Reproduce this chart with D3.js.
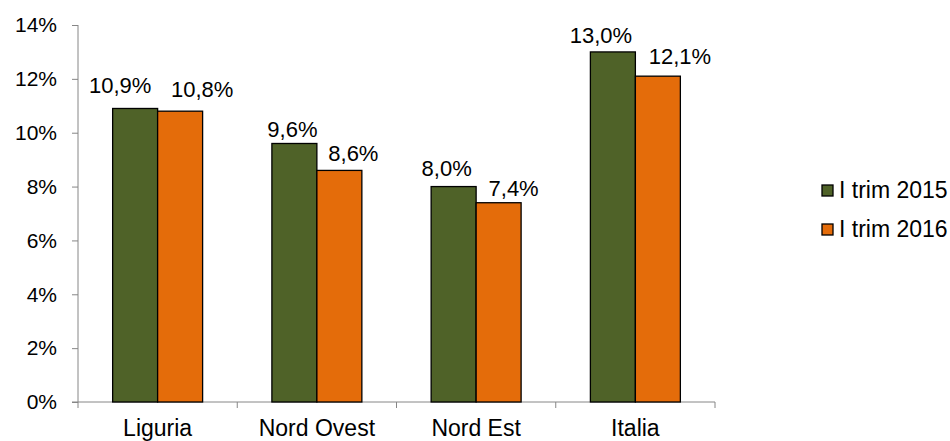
<!DOCTYPE html>
<html>
<head>
<meta charset="utf-8">
<script src="https://cdn.jsdelivr.net/npm/d3@7"></script>
<style>
  html, body { margin: 0; padding: 0; background: #fff; }
  svg { display: block; }
  text { font-family: "Liberation Sans", Arial, sans-serif; fill: #000; }
</style>
</head>
<body>
<svg id="chart" width="950" height="441"></svg>
<script>
// ---- data ----
const categories = ["Liguria", "Nord Ovest", "Nord Est", "Italia"];
const seriesNames = ["I trim 2015", "I trim 2016"];
const trim2015 = [10.9, 9.6, 8.0, 13.0];
const trim2016 = [10.8, 8.6, 7.4, 12.1];
const yTickValues = [0, 2, 4, 6, 8, 10, 12, 14];

// ---- styling / layout ----
const colors = ["#4F6228", "#E46C0A"];
const tickFont = 21, valueFont = 22, catFont = 23, legendFont = 23;
// label nudges [dx from bar centre, gap above bar top] mimicking Excel placement
const labelNudge1 = [[-15, 15], [-2, 6], [-7, 11], [-12, 9]];
const labelNudge2 = [[22, 14], [14, 9], [15, 7], [22, 12]];

const svg = d3.select("#chart");
const mLeft = 78, mRight = 715, mTop = 25, mBottom = 402;

const y = d3.scaleLinear().domain([0, 14]).range([mBottom, mTop]);
const x0 = d3.scaleBand().domain(categories).range([mLeft, mRight]).padding(0);
const x1 = d3.scaleBand().domain(seriesNames).range([0, x0.bandwidth()])
  .paddingInner(0).paddingOuter(0.77);

const seriesValues = [trim2015, trim2016];
const fmt = v => v.toFixed(1).replace(".", ",") + "%";

// y axis
const yAxis = d3.axisLeft(y).tickValues(yTickValues).tickSize(6).tickPadding(15)
  .tickFormat(d => d + "%");
const gy = svg.append("g").attr("transform", `translate(${mLeft},0)`).call(yAxis);
gy.select(".domain").attr("stroke", "#868686").attr("d", `M0,${mTop}V${mBottom}`);
gy.selectAll(".tick line").attr("stroke", "#868686");
gy.selectAll(".tick text").style("font-size", tickFont + "px").attr("fill", "#000")
  .style("font-family", "'Liberation Sans', Arial, sans-serif");

// x axis
const gx = svg.append("g").attr("transform", `translate(0,${mBottom})`);
gx.append("line").attr("x1", mLeft - 6).attr("x2", mRight).attr("y1", 0).attr("y2", 0)
  .attr("stroke", "#868686");
const edges = categories.map(c => x0(c)).concat([mRight]);
gx.selectAll("line.tk").data(edges).enter().append("line").attr("class", "tk")
  .attr("x1", d => d).attr("x2", d => d).attr("y1", 0).attr("y2", 6)
  .attr("stroke", "#868686");
gx.selectAll("text.cat").data(categories).enter().append("text").attr("class", "cat")
  .attr("x", d => x0(d) + x0.bandwidth() / 2).attr("y", 34)
  .attr("text-anchor", "middle").style("font-size", catFont + "px").text(d => d);

// bars
seriesValues.forEach((vals, si) => {
  const g = svg.append("g");
  g.selectAll("rect").data(vals).enter().append("rect")
    .attr("x", (d, i) => x0(categories[i]) + x1(seriesNames[si]))
    .attr("y", d => y(d))
    .attr("width", x1.bandwidth())
    .attr("height", d => mBottom - y(d))
    .attr("fill", colors[si]).attr("stroke", "#000").attr("stroke-width", 1.3);
  const nud = si === 0 ? labelNudge1 : labelNudge2;
  g.selectAll("text").data(vals).enter().append("text")
    .attr("x", (d, i) => x0(categories[i]) + x1(seriesNames[si]) + x1.bandwidth() / 2 + nud[i][0])
    .attr("y", (d, i) => y(d) - nud[i][1])
    .attr("text-anchor", "middle").style("font-size", valueFont + "px").text(fmt);
});

// legend
const lg = svg.append("g").attr("transform", "translate(822,180)");
seriesNames.forEach((n, i) => {
  const r = lg.append("g").attr("transform", `translate(0,${i * 39})`);
  r.append("rect").attr("x", 0).attr("y", 5).attr("width", 11).attr("height", 11)
    .attr("fill", colors[i]).attr("stroke", "#000").attr("stroke-width", 1.3);
  r.append("text").attr("x", 17).attr("y", 18).style("font-size", legendFont + "px").text(n);
});
</script>
</body>
</html>
